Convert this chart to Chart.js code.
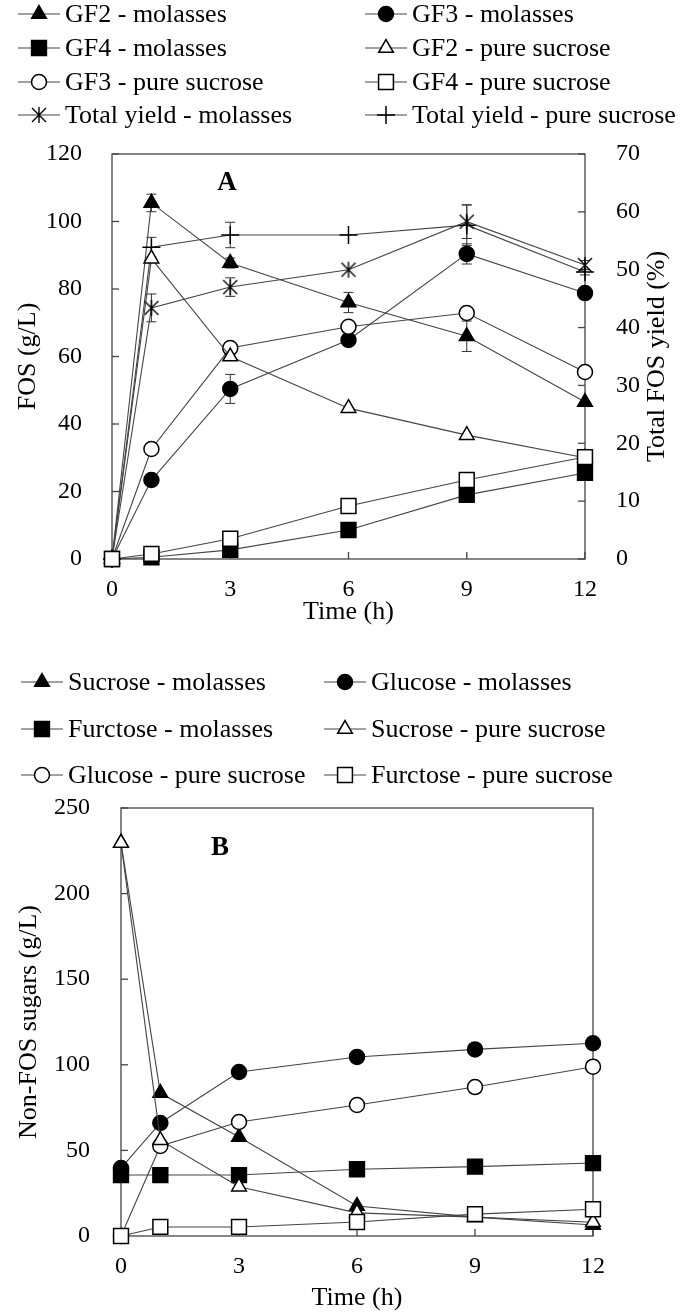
<!DOCTYPE html>
<html>
<head>
<meta charset="utf-8">
<script src="https://cdn.jsdelivr.net/npm/chart.js@4.4.1/dist/chart.umd.min.js"></script>
<style>
  html, body { margin: 0; padding: 0; background: #fff; }
  #wrap { position: relative; width: 685px; height: 1315px; }
  canvas { position: absolute; left: 0; }
</style>
</head>
<body>
<div id="wrap">
  <canvas id="chartA" width="685" height="640" style="top:0"></canvas>
  <canvas id="chartB" width="685" height="675" style="top:640px"></canvas>
</div>
<script>
// sampling times (h)
const time = [0, 1, 3, 6, 9, 12];

// panel A - FOS (g/L)
const gf2Molasses = [0, 105.5, 87.7, 76, 66, 46.5];
const gf3Molasses = [0, 23.4, 50.4, 64.9, 90.4, 78.8];
const gf4Molasses = [0, 0.5, 2.7, 8.6, 19, 25.5];
const gf2Pure = [0, 89, 60, 44.7, 36.7, 30];
const gf3Pure = [0, 32.6, 62.5, 68.8, 72.9, 55.4];
const gf4Pure = [0, 1.5, 6, 15.7, 23.4, 30.2];
// panel A - total FOS yield (%), right axis
const totalMolasses = [0, 43.4, 47, 50, 58.3, 50.8];
const totalPure = [0, 53.9, 56, 56, 57.7, 49.6];

// error bars (half length, same units)
const gf2MolassesErr = [0, 2.6, 1.5, 3, 4.5, 0];
const gf3MolassesErr = [0, 0, 4.3, 0, 3, 0];
const totalMolassesErr = [0, 2.4, 1.6, 0, 2.9, 0.8];
const totalPureErr = [0, 1.7, 2.2, 0, 3.5, 0.5];

// panel B - non-FOS sugars (g/L)
const sucroseMolasses = [229.6, 83.5, 57.8, 17.5, 11, 6.4];
const glucoseMolasses = [39.7, 66, 95.8, 104.6, 109, 112.6];
const fructoseMolasses = [35.6, 35.6, 35.6, 39, 40.5, 42.6];
const sucrosePure = [229.6, 56, 28.8, 13.5, 11, 8];
const glucosePure = [0, 52.6, 66.6, 76.5, 87, 98.9];
const fructosePure = [0, 5.3, 5.3, 8.2, 12.8, 15.6];
const glucoseMolassesErr = [0, 0, 0, 0, 2, 0];

const FONT = '"Liberation Serif", "Times New Roman", serif';
Chart.defaults.font.family = FONT;
Chart.defaults.color = '#000';

// six-armed asterisk marker (x plus vertical stroke)
const asterisk = document.createElement('canvas');
asterisk.width = 18; asterisk.height = 18;
(function () {
  const c = asterisk.getContext('2d');
  c.strokeStyle = '#000'; c.lineWidth = 1.4;
  c.beginPath();
  c.moveTo(2, 2); c.lineTo(16, 16);
  c.moveTo(16, 2); c.lineTo(2, 16);
  c.moveTo(9, 1); c.lineTo(9, 17);
  c.stroke();
})();

function pts(vals) { return time.map((t, i) => ({ x: t, y: vals[i] })); }

function series(label, vals, style, filled, extra) {
  const r = { circle: 7.5, triangle: 8.5, rect: 10.5, cross: 9 }[style] || 9;
  return Object.assign({
    label: label,
    data: pts(vals),
    borderColor: '#444',
    borderWidth: 1.1,
    pointStyle: style,
    pointRadius: r,
    pointHoverRadius: r,
    pointBackgroundColor: filled ? '#000' : '#fff',
    pointBorderColor: '#000',
    pointBorderWidth: 1.5,
    tension: 0,
    clip: false,
    // open squares sit on top, then other open marks, filled marks underneath
    order: filled ? 1 : (style === 'rect' ? -1 : 0)
  }, extra || {});
}

// frame round the plot with inward tick marks
const frameTicks = {
  id: 'frameTicks',
  beforeDatasetsDraw(chart) {
    const { ctx, chartArea: a } = chart;
    ctx.save();
    ctx.strokeStyle = '#444';
    ctx.lineWidth = 1.3;
    ctx.strokeRect(a.left, a.top, a.right - a.left, a.bottom - a.top);
    Object.values(chart.scales).forEach(s => {
      s.ticks.forEach(t => {
        const p = s.getPixelForValue(t.value);
        ctx.beginPath();
        if (s.axis === 'x') { ctx.moveTo(p, a.bottom); ctx.lineTo(p, a.bottom - 7); }
        else if (s.position === 'left') { ctx.moveTo(a.left, p); ctx.lineTo(a.left + 7, p); }
        else { ctx.moveTo(a.right, p); ctx.lineTo(a.right - 7, p); }
        ctx.stroke();
      });
    });
    ctx.restore();
  }
};

const errorBars = {
  id: 'errorBars',
  beforeDatasetsDraw(chart) {
    const ctx = chart.ctx;
    ctx.save();
    ctx.strokeStyle = '#333';
    ctx.lineWidth = 1;
    chart.data.datasets.forEach(ds => {
      if (!ds.errors) return;
      const xs = chart.scales.x, ys = chart.scales[ds.yAxisID || 'y'];
      ds.data.forEach((pt, j) => {
        const e = ds.errors[j];
        if (!e) return;
        const x = xs.getPixelForValue(pt.x);
        const yt = ys.getPixelForValue(pt.y + e), yb = ys.getPixelForValue(pt.y - e);
        ctx.beginPath();
        ctx.moveTo(x, yt); ctx.lineTo(x, yb);
        ctx.moveTo(x - 5, yt); ctx.lineTo(x + 5, yt);
        ctx.moveTo(x - 5, yb); ctx.lineTo(x + 5, yb);
        ctx.stroke();
      });
    });
    ctx.restore();
  }
};

// two-column legend above the plot
const gridLegend = {
  id: 'gridLegend',
  afterDraw(chart, args, opts) {
    const ctx = chart.ctx;
    ctx.save();
    ctx.font = '26px ' + FONT;
    ctx.textBaseline = 'middle';
    chart.data.datasets.forEach((ds, i) => {
      const x = opts.cols[i % 2], y = opts.rows[Math.floor(i / 2)];
      ctx.strokeStyle = '#444';
      ctx.lineWidth = 1.2;
      ctx.beginPath(); ctx.moveTo(x, y); ctx.lineTo(x + 42, y); ctx.stroke();
      ctx.fillStyle = ds.pointBackgroundColor;
      ctx.strokeStyle = '#000';
      ctx.lineWidth = 1.5;
      Chart.helpers.drawPoint(ctx, { pointStyle: ds.pointStyle, radius: ds.pointRadius, borderWidth: 1.5, rotation: 0 }, x + 21, y);
      ctx.fillStyle = '#000';
      ctx.fillText(ds.label, x + 47, y + 1);
    });
    ctx.restore();
  }
};

const panelLabel = {
  id: 'panelLabel',
  afterDraw(chart, args, opts) {
    const ctx = chart.ctx;
    ctx.save();
    ctx.font = 'bold 27px ' + FONT;
    ctx.textAlign = 'center';
    ctx.textBaseline = 'middle';
    ctx.fillStyle = '#000';
    ctx.fillText(opts.text, chart.scales.x.getPixelForValue(opts.x), chart.scales.y.getPixelForValue(opts.y));
    if (opts.rightTitle) {
      // right axis title reads bottom-to-top
      const a = chart.chartArea;
      ctx.font = '26px ' + FONT;
      ctx.translate(opts.rightTitleX, (a.top + a.bottom) / 2);
      ctx.rotate(-Math.PI / 2);
      ctx.fillText(opts.rightTitle, 0, 0);
    }
    ctx.restore();
  }
};

function xAxis(h, bottomPad) {
  return {
    type: 'linear', min: 0, max: 12,
    grid: { display: false }, border: { display: false },
    ticks: { stepSize: 3, font: { size: 24 }, padding: 8, color: '#000' },
    title: { display: true, text: 'Time (h)', font: { size: 26 }, color: '#000', padding: { top: 0, bottom: bottomPad } },
    afterFit: s => { s.height = h; }
  };
}

const common = {
  responsive: false,
  animation: false,
  events: [],
  plugins: { legend: { display: false }, tooltip: { enabled: false } }
};

new Chart(document.getElementById('chartA'), {
  type: 'line',
  data: {
    datasets: [
      series('GF2 - molasses', gf2Molasses, 'triangle', true, { errors: gf2MolassesErr }),
      series('GF3 - molasses', gf3Molasses, 'circle', true, { errors: gf3MolassesErr }),
      series('GF4 - molasses', gf4Molasses, 'rect', true),
      series('GF2 - pure sucrose', gf2Pure, 'triangle', false),
      series('GF3 - pure sucrose', gf3Pure, 'circle', false),
      series('GF4 - pure sucrose', gf4Pure, 'rect', false),
      series('Total yield - molasses', totalMolasses, asterisk, false, { yAxisID: 'y1', errors: totalMolassesErr, order: 0 }),
      series('Total yield - pure sucrose', totalPure, 'cross', false, { yAxisID: 'y1', errors: totalPureErr, order: 0 })
    ]
  },
  options: Object.assign({}, common, {
    layout: { padding: { top: 154, left: 0, right: 0, bottom: 0 } },
    scales: {
      x: xAxis(81, 12),
      y: {
        position: 'left', min: 0, max: 120,
        grid: { display: false }, border: { display: false },
        ticks: { stepSize: 20, font: { size: 24 }, padding: 22, color: '#000' },
        title: { display: true, text: 'FOS (g/L)', font: { size: 26 }, color: '#000', padding: { top: 13, bottom: 0 } },
        afterFit: s => { s.width = 112; }
      },
      y1: {
        position: 'right', min: 0, max: 70,
        grid: { display: false }, border: { display: false },
        ticks: { stepSize: 10, font: { size: 24 }, padding: 23, color: '#000' },
        title: { display: false },
        afterFit: s => { s.width = 100; }
      }
    },
    plugins: Object.assign({}, common.plugins, {
      gridLegend: { cols: [18, 365], rows: [14, 48, 82, 115] },
      panelLabel: { text: 'A', x: 2.92, y: 111.4, rightTitle: 'Total FOS yield (%)', rightTitleX: 657 }
    })
  }),
  plugins: [frameTicks, errorBars, gridLegend, panelLabel]
});

new Chart(document.getElementById('chartB'), {
  type: 'line',
  data: {
    datasets: [
      series('Sucrose - molasses', sucroseMolasses, 'triangle', true),
      series('Glucose - molasses', glucoseMolasses, 'circle', true, { errors: glucoseMolassesErr }),
      series('Furctose - molasses', fructoseMolasses, 'rect', true),
      series('Sucrose - pure sucrose', sucrosePure, 'triangle', false),
      series('Glucose - pure sucrose', glucosePure, 'circle', false),
      series('Furctose - pure sucrose', fructosePure, 'rect', false)
    ]
  },
  options: Object.assign({}, common, {
    layout: { padding: { top: 168, left: 0, right: 92, bottom: 0 } },
    scales: {
      x: xAxis(79, 1),
      y: {
        position: 'left', min: 0, max: 250,
        grid: { display: false }, border: { display: false },
        ticks: { stepSize: 50, font: { size: 24 }, padding: 23, color: '#000' },
        title: { display: true, text: 'Non-FOS sugars (g/L)', font: { size: 26 }, color: '#000', padding: { top: 14, bottom: 0 } },
        afterFit: s => { s.width = 121; }
      }
    },
    plugins: Object.assign({}, common.plugins, {
      gridLegend: { cols: [21, 324], rows: [42, 89, 135] },
      panelLabel: { text: 'B', x: 2.52, y: 226.6 }
    })
  }),
  plugins: [frameTicks, errorBars, gridLegend, panelLabel]
});
</script>
</body>
</html>
